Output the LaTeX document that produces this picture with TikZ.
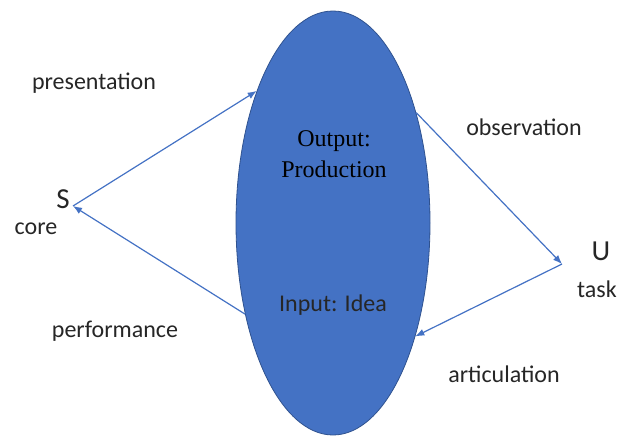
\documentclass[tikz,border=0pt]{standalone}
\usepackage{fontspec}
\setmainfont{Carlito}
\newfontfamily\serifout{Liberation Serif}
\usetikzlibrary{arrows.meta,shapes.geometric}

\definecolor{ideablue}{HTML}{4472C4}
\definecolor{ideaedge}{HTML}{2F528F}

\tikzset{
    flow/.style={draw=ideablue, line width=1.2pt, -{Latex[length=9pt,width=7pt]}},
    lbl/.style={font=\fontsize{24}{28}\selectfont, inner sep=0pt, text=black!85},
    ends/.style={font=\fontsize{29}{33}\selectfont, inner sep=0pt, text=black!85}
}

\begin{document}
\begin{tikzpicture}[x=1pt,y=-1pt]

    \useasboundingbox (0,0) rectangle (627,437);

    \node[ellipse, fill=ideablue, draw=ideaedge, line width=0.8pt,
          minimum width=194pt, minimum height=424pt, inner sep=0pt] (idea) at (333,223) {};

    \node[font=\serifout\fontsize{24}{31}\selectfont, align=center, inner sep=0pt] (out) at (334,154) {Output:\\Production};
    \node[lbl] (in) at (333,305) {Input: Idea};

    \coordinate (sv) at (73,206);
    \coordinate (uv) at (562,264);

    \node[ends] (s) at (63,199) {S};
    \node[lbl] (core) at (36,229) {core};
    \node[ends] (u) at (601,251) {U};
    \node[lbl] (task) at (597,289) {task};

    \node[lbl] (pres) at (94,83) {presentation};
    \node[lbl] (perf) at (115,331) {performance};
    \node[lbl] (obs) at (524,127) {observation};
    \node[lbl] (art) at (504,374) {articulation};

    \draw[flow] (sv) -- (idea.120.8);
    \draw[flow] (idea.226.5) -- (sv);
    \draw[flow] (idea.53) -- (uv);
    \draw[flow] (uv) -- (idea.-54);

\end{tikzpicture}
\end{document}
